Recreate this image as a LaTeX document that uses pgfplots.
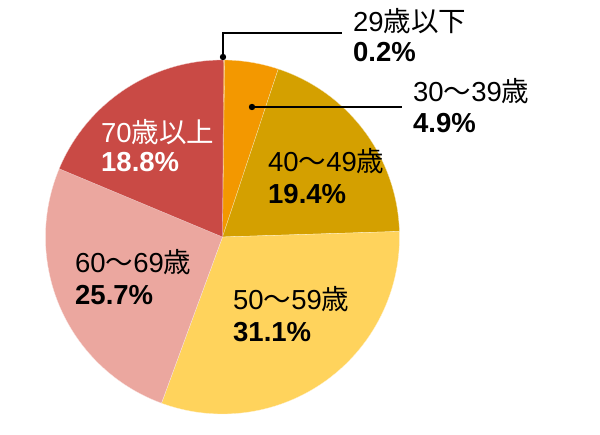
\documentclass[border=0pt]{standalone}
\usepackage{pgfplots}
\pgfplotsset{compat=1.18}
\usepackage{fontspec}
\setmainfont{Liberation Sans}
\newfontfamily\jp{Noto Sans CJK JP}
\definecolor{cA}{HTML}{F39800}
\definecolor{cB}{HTML}{F39800}
\definecolor{cC}{HTML}{D4A000}
\definecolor{cD}{HTML}{FFD35C}
\definecolor{cE}{HTML}{EBA79F}
\definecolor{cF}{HTML}{C94A45}
\newcommand{\lbl}{\fontsize{27.5}{32}\selectfont}
\begin{document}
\begin{tikzpicture}
\useasboundingbox (0,0) rectangle (600pt,434pt);
\begin{axis}[at={(0,0)},anchor=south west,
  scale only axis, width=600pt, height=434pt,
  xmin=0, xmax=600, ymin=0, ymax=434, hide axis, clip=false]
\pgfplotsextra{
  \def\cx{222.5}\def\cy{197}\def\R{177pt}
  \def\cum{0}
  \foreach \p/\c in {0.2/cA, 4.9/cB, 19.4/cC, 31.1/cD, 25.7/cE, 18.8/cF}{
    \pgfmathsetmacro{\aA}{90-3.6*\cum}
    \pgfmathsetmacro{\aB}{90-3.6*(\cum+\p)}
    \fill[\c, draw=white!70!\c, line width=0.3pt] (axis cs:\cx,\cy) -- ++(\aA:\R) arc[start angle=\aA, end angle=\aB, radius=\R] -- cycle;
    \pgfmathsetmacro{\newcum}{\cum+\p}
    \global\let\cum\newcum
  }
}
% leader lines
\draw[black, line width=1.3pt] (axis cs:223,377) -- (axis cs:223,401) -- (axis cs:342,401);
\fill[black] (axis cs:223,377) circle[radius=3.2pt];
\draw[black, line width=1.3pt] (axis cs:252,327) -- (axis cs:402,327);
\fill[black] (axis cs:252,327) circle[radius=3.2pt];
% labels
\node[anchor=base west, inner sep=0pt, align=left] at (axis cs:353,402) {\lbl 29{\jp 歳以下}};
\node[anchor=base west, inner sep=0pt] at (axis cs:353,372) {\lbl\bfseries 0.2\%};
\node[anchor=base west, inner sep=0pt] at (axis cs:413,332) {\lbl 30{\jp ～}39{\jp 歳}};
\node[anchor=base west, inner sep=0pt] at (axis cs:413,301) {\lbl\bfseries 4.9\%};
\node[anchor=base west, inner sep=0pt] at (axis cs:268,262) {\lbl 40{\jp ～}49{\jp 歳}};
\node[anchor=base west, inner sep=0pt] at (axis cs:268,230) {\lbl\bfseries 19.4\%};
\node[anchor=base west, inner sep=0pt] at (axis cs:233,124) {\lbl 50{\jp ～}59{\jp 歳}};
\node[anchor=base west, inner sep=0pt] at (axis cs:233,92) {\lbl\bfseries 31.1\%};
\node[anchor=base west, inner sep=0pt] at (axis cs:75,161) {\lbl 60{\jp ～}69{\jp 歳}};
\node[anchor=base west, inner sep=0pt] at (axis cs:75,129) {\lbl\bfseries 25.7\%};
\node[anchor=base west, inner sep=0pt, text=white] at (axis cs:101,291) {\lbl 70{\jp 歳以上}};
\node[anchor=base west, inner sep=0pt, text=white] at (axis cs:101,262) {\lbl\bfseries 18.8\%};
\end{axis}
\end{tikzpicture}
\end{document}
